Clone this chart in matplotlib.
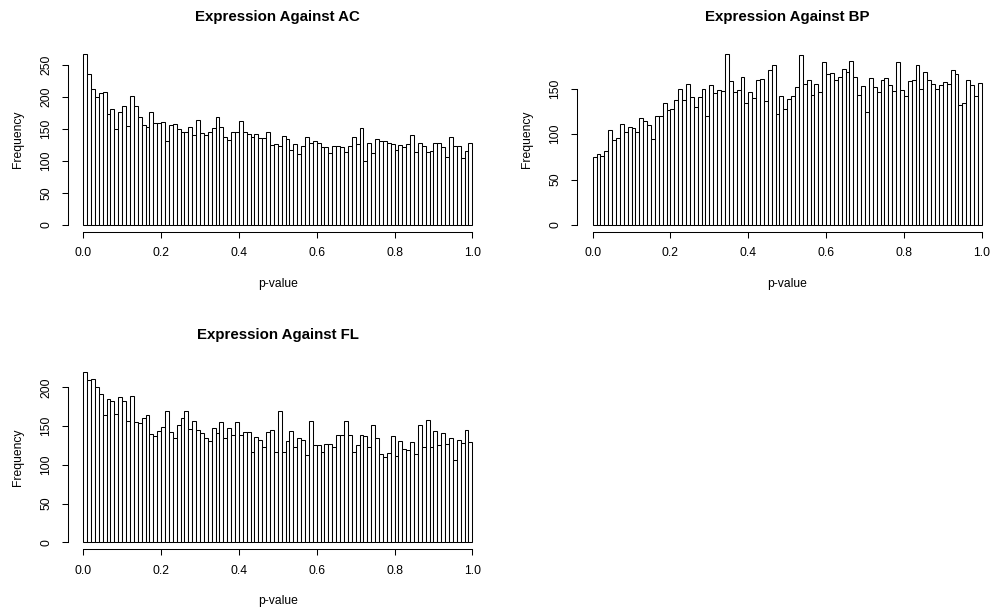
import numpy as np
import matplotlib
matplotlib.use("Agg")
import matplotlib.pyplot as plt

plt.rcParams['font.family'] = ['Liberation Sans', 'DejaVu Sans']

# ---- data: counts per 0.01-wide p-value bin (100 bins, 0..1) ----
bin_edges = np.round(np.linspace(0, 1, 101), 2)

ac_counts = [
    267, 236, 212, 200, 207, 208, 174, 181, 150, 176,
    186, 155, 202, 186, 169, 157, 153, 177, 159, 159,
    161, 131, 156, 158, 150, 145, 145, 153, 141, 165,
    144, 140, 145, 151, 169, 154, 137, 133, 145, 145,
    162, 145, 142, 137, 142, 136, 136, 146, 125, 127,
    124, 139, 134, 118, 127, 111, 123, 138, 129, 132,
    128, 122, 122, 112, 124, 124, 122, 114, 124, 137,
    126, 151, 100, 128, 112, 134, 131, 131, 129, 127,
    118, 125, 122, 126, 141, 114, 129, 124, 114, 116,
    129, 129, 122, 106, 137, 124, 124, 105, 115, 128,
]

bp_counts = [
    75, 78, 76, 81, 104, 93, 96, 111, 102, 108,
    107, 102, 118, 114, 110, 95, 120, 120, 134, 126,
    128, 138, 150, 137, 155, 141, 130, 141, 150, 120,
    154, 145, 148, 147, 188, 158, 146, 148, 163, 134,
    146, 140, 160, 161, 136, 171, 176, 122, 142, 128,
    139, 142, 152, 187, 155, 159, 143, 155, 146, 179,
    166, 167, 160, 163, 172, 168, 180, 163, 143, 153,
    124, 162, 152, 146, 160, 162, 154, 147, 179, 149,
    142, 158, 160, 176, 150, 168, 160, 155, 150, 154,
    157, 155, 171, 166, 132, 134, 159, 154, 142, 156,
]

fl_counts = [
    220, 210, 211, 201, 191, 164, 185, 182, 166, 188,
    182, 156, 189, 155, 154, 160, 164, 140, 137, 144,
    149, 169, 142, 135, 151, 161, 170, 146, 156, 145,
    141, 135, 131, 148, 141, 155, 134, 148, 138, 155,
    139, 142, 142, 117, 136, 132, 123, 142, 145, 117,
    169, 116, 131, 143, 123, 135, 132, 113, 157, 126,
    125, 116, 127, 127, 123, 138, 138, 156, 138, 116,
    125, 139, 137, 123, 152, 135, 114, 110, 115, 137,
    111, 131, 121, 119, 129, 114, 152, 123, 158, 123,
    143, 125, 141, 127, 135, 106, 132, 128, 145, 129,
]

titles = ["Expression Against AC", "Expression Against BP", "Expression Against FL"]
xticks = [0.0, 0.2, 0.4, 0.6, 0.8, 1.0]
xtick_labels = ["0.0", "0.2", "0.4", "0.6", "0.8", "1.0"]
yticks_list = [[0, 50, 100, 150, 200, 250], [0, 50, 100, 150], [0, 50, 100, 150, 200]]
xlabel = "p-value"
ylabel = "Frequency"

W, H = 991, 608
fig = plt.figure(figsize=(W / 100, H / 100), dpi=100)

# plot-region rectangles in pixels: (left, right, top, bottom)
regions = [
    (67.7, 487.9, 47.5, 231.8),
    (577.1, 997.3, 47.3, 231.8),
    (67.7, 487.9, 365.0, 549.1),
]

all_counts = [ac_counts, bp_counts, fl_counts]
FS = 8.7

for counts, title, yticks, (l, r, t, b) in zip(all_counts, titles, yticks_list, regions):
    ax = fig.add_axes([l / W, 1 - b / H, (r - l) / W, (b - t) / H])
    counts = np.asarray(counts)
    ax.bar(bin_edges[:-1], counts, width=np.diff(bin_edges), align='edge',
           color='white', edgecolor='black', linewidth=0.75)
    ymax = counts.max()
    ax.set_xlim(-0.04, 1.04)
    ax.set_ylim(-0.04 * ymax, 1.04 * ymax)
    for s in ['top', 'right']:
        ax.spines[s].set_visible(False)
    ax.spines['bottom'].set_bounds(0, 1)
    ax.spines['left'].set_bounds(yticks[0], yticks[-1])
    for s in ['bottom', 'left']:
        ax.spines[s].set_linewidth(0.75)
    ax.set_xticks(xticks)
    ax.set_xticklabels(xtick_labels)
    ax.set_yticks(yticks)
    ax.set_yticklabels([str(v) for v in yticks])
    ax.tick_params(axis='both', direction='out', length=4.3, width=0.75,
                   labelsize=FS, pad=7)
    ax.tick_params(axis='y', labelrotation=90)
    for lab in ax.get_yticklabels():
        lab.set_va('center')

    h = b - t
    w = r - l
    # title
    ax.set_title(title, fontsize=10.8, fontweight='bold', y=(b - (t - 30.5)) / h,
                 pad=0, va='center')
    # x label
    ax.set_xlabel(xlabel, fontsize=FS, va='center')
    ax.xaxis.set_label_coords((l + 0.5 * w - l) / w, -(52.0) / h)
    # y label
    ax.set_ylabel(ylabel, fontsize=FS, va='center')
    ax.yaxis.set_label_coords(-49.7 / w, 0.5)

fig.savefig("out.png", dpi=100)
